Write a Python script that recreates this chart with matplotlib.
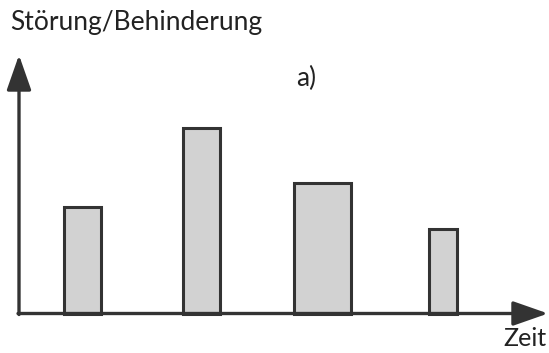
import matplotlib
matplotlib.use('Agg')
import matplotlib.pyplot as plt

# bar heights (Störung/Behinderung) over time
heights = [107, 186, 131, 85]
centers = [82, 201.5, 322, 443]
widths = [37, 37, 57, 28]

fig = plt.figure(figsize=(5.49, 3.53), dpi=100)
ax = fig.add_axes([0, 0, 1, 1])
ax.set_xlim(0, 549)
ax.set_ylim(-39.5, 313.5)
ax.axis('off')

ax.bar(centers, heights, width=widths, bottom=0, color='#d2d2d2',
       edgecolor='#333333', linewidth=2.2, zorder=2)

arrow = dict(arrowstyle='-|>,head_length=1.2,head_width=0.42', color='#333333',
             lw=2.4, shrinkA=0, shrinkB=0, mutation_scale=18)
ax.annotate('', xy=(19, 258.5), xytext=(19, -1), arrowprops=arrow, zorder=3)
ax.annotate('', xy=(548, 0), xytext=(18, 0), arrowprops=arrow, zorder=3)

txt = dict(fontsize=19, family='Lato', color='#222222')
ax.text(10, 283.5, 'Störung/Behinderung', ha='left', va='baseline', **txt)
ax.text(296, 235, 'a)', ha='left', va='center', **txt)
ax.text(546, -33, 'Zeit', ha='right', va='baseline', fontsize=18,
        family='Lato', color='#222222')

fig.savefig('out.png')
plt.close()
